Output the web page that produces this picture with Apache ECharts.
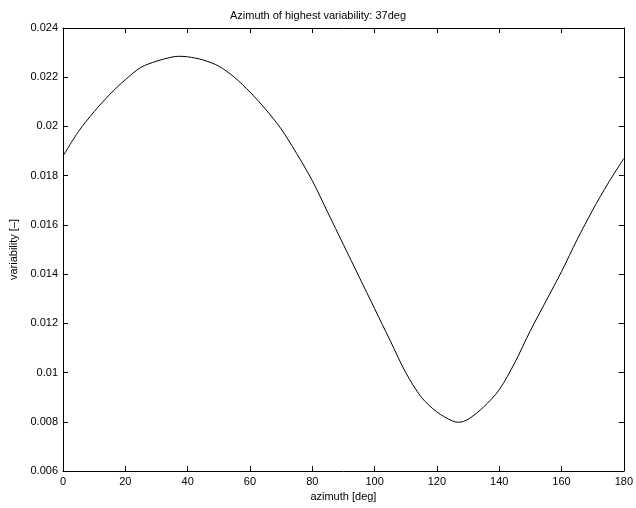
<!DOCTYPE html>
<html>
<head>
<meta charset="utf-8">
<script src="https://cdn.jsdelivr.net/npm/echarts@6/dist/echarts.min.js"></script>
<style>
  html, body { margin: 0; padding: 0; background: #fff; }
  #chart { width: 636px; height: 508px; }
</style>
</head>
<body>
<div id="chart"></div>
<script>
// azimuth [deg] and variability [-]
const azimuth = [0, 5, 10, 15, 20, 25, 30, 35, 37, 40, 45, 50, 55, 60, 65, 70, 75, 80, 85, 90,
  95, 100, 105, 110, 115, 120, 125, 127, 130, 135, 140, 145, 150, 155, 160, 165, 170, 175, 180]
const variability = [0.0188, 0.0198, 0.0206, 0.0213, 0.0219, 0.0224, 0.02265, 0.02282, 0.02285, 0.02283,
  0.0227, 0.02245, 0.0220, 0.0214, 0.0207, 0.0199, 0.0189, 0.0178, 0.0165, 0.0152,
  0.0139, 0.0126, 0.0113, 0.0100, 0.0090, 0.0084, 0.00803, 0.00798, 0.0081, 0.0086,
  0.0093, 0.0104, 0.0117, 0.0129, 0.0141, 0.0154, 0.0166, 0.0177, 0.0187]
const xTicks = [0, 20, 40, 60, 80, 100, 120, 140, 160, 180]
const yTicks = [0.006, 0.008, 0.01, 0.012, 0.014, 0.016, 0.018, 0.02, 0.022, 0.024]

const font = 'Liberation Sans, Arial, Helvetica, sans-serif'
const axisLine = { show: true, onZero: false, lineStyle: { color: '#000', width: 1 } }
const tick = { show: true, inside: true, length: 5, lineStyle: { color: '#000' } }

const chart = echarts.init(document.getElementById('chart'), null, { renderer: 'canvas' })

chart.setOption({
  animation: false,
  title: {
    text: 'Azimuth of highest variability: 37deg',
    left: 'center',
    top: 5,
    textStyle: { fontFamily: font, fontSize: 11, fontWeight: 'normal', color: '#000' }
  },
  grid: { left: 62, right: 11, top: 28, bottom: 37 },
  xAxis: [{
    type: 'value',
    min: xTicks[0],
    max: xTicks[xTicks.length - 1],
    interval: 20,
    name: 'azimuth [deg]',
    nameLocation: 'middle',
    nameGap: 20,
    nameTextStyle: { fontFamily: font, fontSize: 11, color: '#000' },
    axisLine,
    axisTick: tick,
    axisLabel: { fontFamily: font, fontSize: 11, color: '#000', margin: 5 },
    splitLine: { show: false }
  }, {
    type: 'value',
    position: 'top',
    min: xTicks[0],
    max: xTicks[xTicks.length - 1],
    interval: 20,
    axisLine,
    axisTick: tick,
    axisLabel: { show: false },
    splitLine: { show: false }
  }],
  yAxis: [{
    type: 'value',
    min: yTicks[0],
    max: yTicks[yTicks.length - 1],
    interval: 0.002,
    name: 'variability [–]',
    nameLocation: 'middle',
    nameGap: 44,
    nameTextStyle: { fontFamily: font, fontSize: 11, color: '#000' },
    axisLine,
    axisTick: tick,
    axisLabel: {
      fontFamily: font, fontSize: 11, color: '#000', margin: 5,
      formatter: v => String(parseFloat(v.toFixed(3)))
    },
    splitLine: { show: false }
  }, {
    type: 'value',
    position: 'right',
    min: yTicks[0],
    max: yTicks[yTicks.length - 1],
    interval: 0.002,
    axisLine,
    axisTick: tick,
    axisLabel: { show: false },
    splitLine: { show: false }
  }],
  series: [{
    type: 'line',
    data: azimuth.map((a, i) => [a, variability[i]]),
    smooth: 0.3,
    showSymbol: false,
    lineStyle: { color: '#000', width: 1 }
  }]
})
</script>
</body>
</html>
